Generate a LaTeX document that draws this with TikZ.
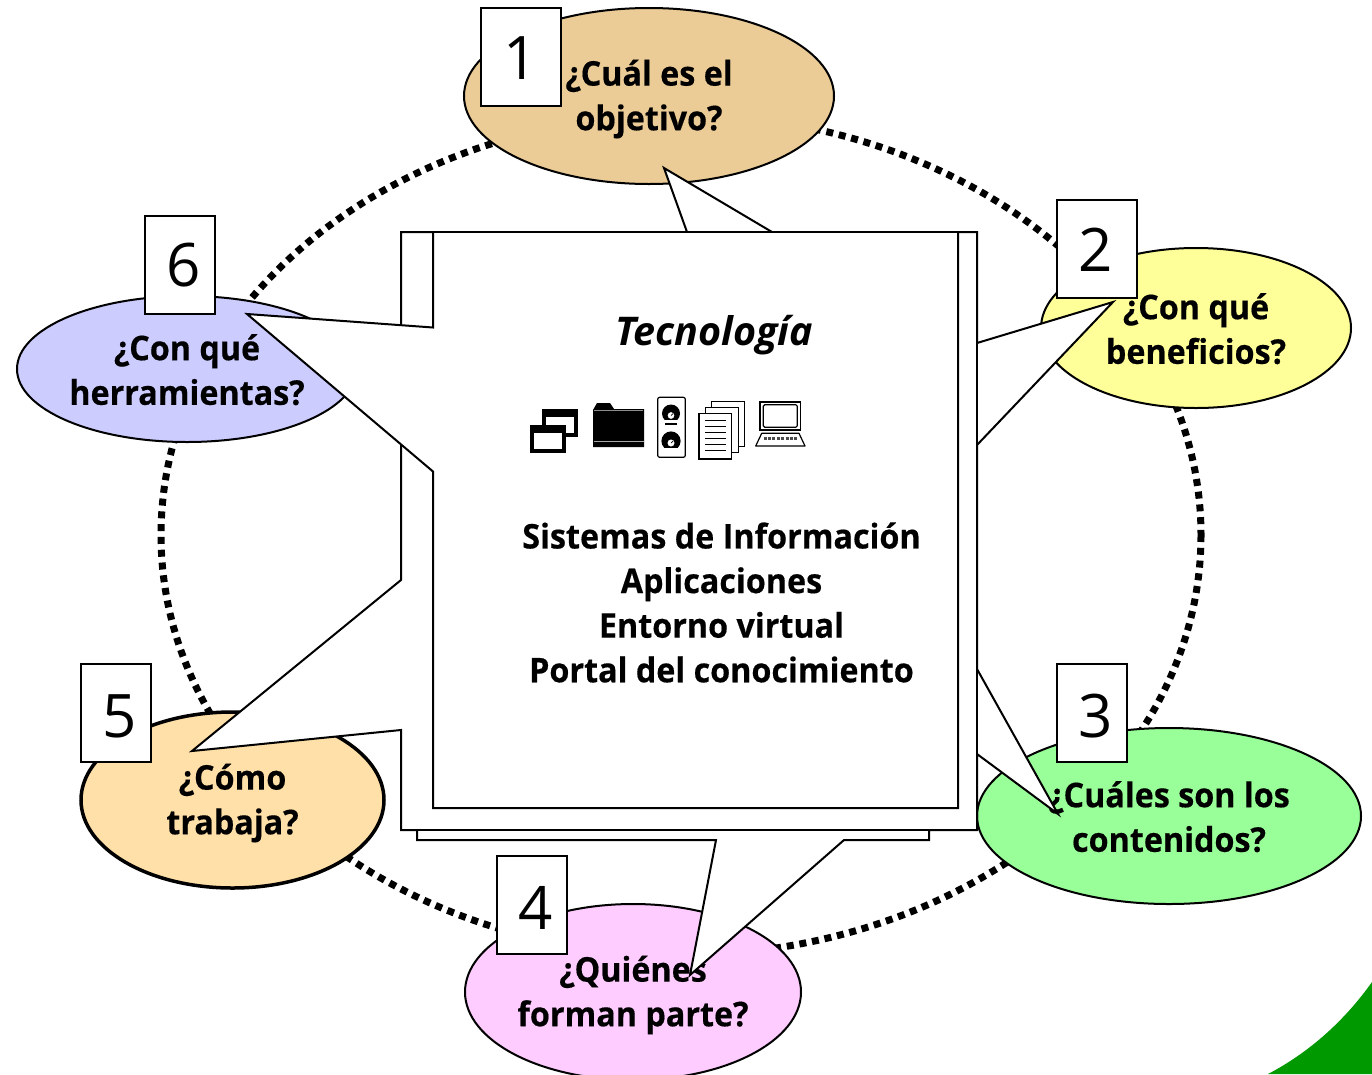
\documentclass[tikz,border=0pt]{standalone}
\usepackage{fontspec}
\setmainfont{Open Sans}[FakeStretch=0.95,BoldFeatures={FakeBold=0.4}]
\newfontfamily\titlefont{Open Sans}
\newfontfamily\numfont{Open Sans}
\usetikzlibrary{shapes.geometric}
\definecolor{cgreen}{RGB}{0,153,0}
\definecolor{cone}{RGB}{235,203,150}
\definecolor{ctwo}{RGB}{255,255,153}
\definecolor{cthree}{RGB}{153,255,153}
\definecolor{cfour}{RGB}{255,204,255}
\definecolor{cfive}{RGB}{255,224,168}
\definecolor{csix}{RGB}{204,204,255}
\newcommand{\ls}{\rule[-5pt]{0pt}{37pt}}
\tikzset{
  bubble/.style={ellipse,draw=black,line width=2pt,inner sep=0pt,outer sep=0pt,align=center,font=\fontsize{34}{44.6}\selectfont\bfseries},
  numbox/.style={rectangle,draw=black,fill=white,line width=2pt,inner sep=0pt,outer sep=0pt},
  digit/.style={inner sep=0pt,font=\numfont\fontsize{60}{60}\selectfont},
  dotring/.style={line width=7pt,dash pattern=on 7pt off 5.8pt},
  frameline/.style={draw=black,fill=white,line width=2pt,line join=miter},
  bodytext/.style={inner sep=0pt,font=\fontsize{34}{44.6}\selectfont\bfseries,align=center},
  icon/.style={line width=1.2pt,draw=black}
}
\begin{document}
\begin{tikzpicture}[x=1pt,y=-1pt]
\useasboundingbox (0,0) rectangle (1372,1074);
\fill[white] (0,0) rectangle (1372,1074);
% green corner
\fill[cgreen] (1268,1074) .. controls (1310,1052) and (1345,1020) .. (1372,982) -- (1372,1074) -- cycle;
% dotted ring
\draw[dotring] (681,535) ellipse [x radius=520,y radius=420];
% bubbles
\node[bubble,fill=cone,minimum width=370pt,minimum height=176pt] (q1) at (649,96) {\ls ¿Cuál es el\\\ls objetivo?};
\node[bubble,fill=ctwo,minimum width=310pt,minimum height=160pt] (q2) at (1196,328) {\ls ¿Con qué\\\ls beneficios?};
\node[bubble,fill=cthree,minimum width=384pt,minimum height=176pt] (q3) at (1169,816) {\ls ¿Cuáles son los\\\ls contenidos?};
\node[bubble,fill=cfour,minimum width=336pt,minimum height=176pt] (q4) at (633,992) {\ls ¿Quiénes\\\ls forman parte?};
\node[bubble,line width=3.5pt,fill=cfive,minimum width=303pt,minimum height=176pt] (q5) at (232.5,800) {\ls ¿Cómo\\\ls trabaja?};
\node[bubble,fill=csix,minimum width=340pt,minimum height=146pt] (q6) at (187,369) {\ls ¿Con qué\\\ls herramientas?};
% outer frame with callouts
\path[frameline] (401,232) -- (687,232) -- (664,168) -- (772,232) -- (977,232) -- (977,343) -- (1113,302) -- (977,445) -- (977,669) -- (1058,814) -- (977,754) -- (977,830) -- (929,830) -- (929,840) -- (844,840) -- (690,975) -- (716,840) -- (417,840) -- (417,830) -- (401,830) -- (401,730) -- (192,751) -- (401,580) -- cycle;
\draw[black,line width=2pt] (401,232) -- (977,232) -- (977,830) -- (401,830);
% inner page with callout 6
\fill[white] (433,233) -- (433,327.5) -- (247,314) -- (433,471.5) -- (433,808) -- (958,808) -- (958,233) -- cycle;
\draw[black,line width=2pt,line join=miter] (433,232) -- (433,327.5) -- (247,314) -- (433,471.5) -- (433,808) -- (958,808) -- (958,232);
% centre text
\node[inner sep=0pt,font=\titlefont\fontsize{39.5}{44.6}\selectfont\bfseries\itshape] (title) at (714,335) {Tecnología};
\node[bodytext] (list) at (721.5,602.5) {Sistemas de Información\\Aplicaciones\\Entorno virtual\\Portal del conocimiento};
% icons: windows
\fill[black] (542.3,409.3) rectangle (578.3,437.3);
\fill[white] (546.3,417.3) rectangle (574.3,433.3);
\fill[black] (530.3,425.3) rectangle (566.3,453.3);
\fill[white] (534.3,433.3) rectangle (562.3,449.3);
% icons: folder
\fill[black] (593,410) -- (597,403) -- (610,403) -- (614,409) -- (644,409) -- (644,447) -- (593,447) -- cycle;
\draw[black!45,line width=.8pt] (594,410.3) -- (643,410.3);
\draw[black!35,line width=1pt] (594,441) -- (644,441);
% icons: knobs
\draw[icon,fill=white,rounded corners=2pt] (657.7,397.3) rectangle (685.3,457.3);
\fill[black] (671,413.5) circle [radius=9];
\fill[white] (660,419.5) rectangle (682,423);
\draw[white,fill=white,line width=.5pt] (671,415.5) circle [radius=3];
\draw[black,line width=.7pt] (671,415.5) -- (673,413.5);
\fill[black] (665,422.7) rectangle (677.3,425.3);
\fill[black] (671,441) circle [radius=9.6];
\fill[white] (660,447.5) rectangle (682,451.5);
\draw[white,fill=white,line width=.5pt] (671,443) circle [radius=3.2];
\draw[black,line width=.7pt] (671,443) -- (673,441);
% icons: pages
\draw[icon,fill=white] (711.7,401.7) rectangle (744.3,446.7);
\draw[icon,fill=white] (705.7,407.7) rectangle (738.3,452.7);
\draw[icon,fill=white] (699,413.7) rectangle (731.7,459);
\draw[black,line width=1pt] (705,420) -- (726,420) (705,426) -- (726,426) (705,432.3) -- (726,432.3) (705,438.7) -- (726,438.7) (705,444.7) -- (726,444.7) (705,450.7) -- (726,450.7);
% icons: laptop
\draw[icon,fill=white] (760,402) rectangle (800.7,430);
\draw[icon,fill=white,rounded corners=1.5pt] (763.3,404.7) rectangle (797.3,427.3);
\draw[icon,fill=white,line join=round] (761.7,433.3) -- (799,433.3) -- (805,446) -- (755.7,446) -- cycle;
\draw[black!70,line width=2.4pt,dash pattern=on 3pt off 1.4pt] (763.5,438.5) -- (798,438.5);
% number boxes
\node[numbox,minimum width=80pt,minimum height=98pt] (n1) at (521,57) {};
\node[numbox,minimum width=80pt,minimum height=98pt] (n2) at (1097,249) {};
\node[numbox,minimum width=70pt,minimum height=98pt] (n3) at (1092,713) {};
\node[numbox,minimum width=70pt,minimum height=98pt] (n4) at (532,905) {};
\node[numbox,minimum width=70pt,minimum height=98pt] (n5) at (116,713) {};
\node[numbox,minimum width=70pt,minimum height=98pt] (n6) at (180,265) {};
\node[digit] (d1) at (521,58) {1};
\node[digit] (d2) at (1096,250) {2};
\node[digit] (d3) at (1096,716) {3};
\node[digit] (d4) at (536,908) {4};
\node[digit] (d5) at (120,716) {5};
\node[digit] (d6) at (184,265) {6};
\end{tikzpicture}
\end{document}
